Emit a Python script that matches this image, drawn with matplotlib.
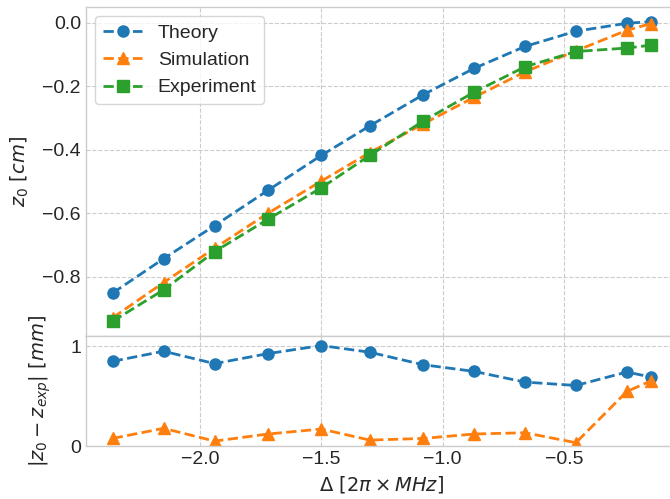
import numpy as np
import matplotlib
matplotlib.use("Agg")
import matplotlib.pyplot as plt

plt.style.use("seaborn-v0_8-whitegrid")
plt.rcParams["font.family"] = "sans-serif"
plt.rcParams["font.sans-serif"] = ["Liberation Sans", "DejaVu Sans"]
plt.rcParams["grid.linestyle"] = "--"

# detuning (2pi x MHz)
delta = [-2.36, -2.15, -1.94, -1.72, -1.50, -1.30, -1.08, -0.87, -0.66, -0.45, -0.24, -0.14]

# position z0 in cm
z_theory = [-0.851, -0.743, -0.639, -0.528, -0.418, -0.325, -0.227, -0.144, -0.075, -0.027, -0.002, 0.003]
z_sim = [-0.929, -0.818, -0.710, -0.600, -0.499, -0.409, -0.319, -0.235, -0.155, -0.089, -0.024, -0.003]
z_exp = [-0.940, -0.841, -0.721, -0.619, -0.520, -0.418, -0.310, -0.219, -0.139, -0.091, -0.080, -0.071]

# |z0 - z_exp| in mm
err_theory = [0.849, 0.950, 0.826, 0.926, 1.007, 0.940, 0.815, 0.748, 0.641, 0.607, 0.742, 0.691]
err_sim = [0.077, 0.178, 0.050, 0.121, 0.171, 0.060, 0.077, 0.121, 0.134, 0.034, 0.547, 0.654]

fig, (ax1, ax2) = plt.subplots(2, 1, sharex=True, figsize=(6.7, 4.99), dpi=100,
                               gridspec_kw={"height_ratios": [3, 1], "hspace": 0})
fig.subplots_adjust(left=0.128, right=1.012, top=0.9866, bottom=0.106)

fs = 14
ax1.plot(delta, z_theory, "--o", color="C0", lw=2, ms=8, label="Theory")
ax1.plot(delta, z_sim, "--^", color="C1", lw=2, ms=8, label="Simulation")
ax1.plot(delta, z_exp, "--s", color="C2", lw=2, ms=8, label="Experiment")
ax1.set_ylabel(r"$z_0\ [cm]$", fontsize=fs)
ax1.yaxis.set_label_coords(-0.093, 0.5)
ax1.set_yticks([0.0, -0.2, -0.4, -0.6, -0.8])
ax1.tick_params(labelsize=fs)
ax1.legend(loc="upper left", fontsize=fs, frameon=True)

ax2.plot(delta, err_theory, "--o", color="C0", lw=2, ms=8)
ax2.plot(delta, err_sim, "--^", color="C1", lw=2, ms=8)
ax2.set_ylim(0, 1.1)
ax2.set_yticks([0, 1])
ax2.set_ylabel(r"$|z_0 - z_{exp}|\ [mm]$", fontsize=fs)
ax2.yaxis.set_label_coords(-0.055, 0.5)
ax2.set_xlabel(r"$\Delta\ [2\pi \times MHz]$", fontsize=fs)
ax2.set_xticks([-2.0, -1.5, -1.0, -0.5])
ax2.tick_params(labelsize=fs)

fig.savefig("out.png", dpi=100)
